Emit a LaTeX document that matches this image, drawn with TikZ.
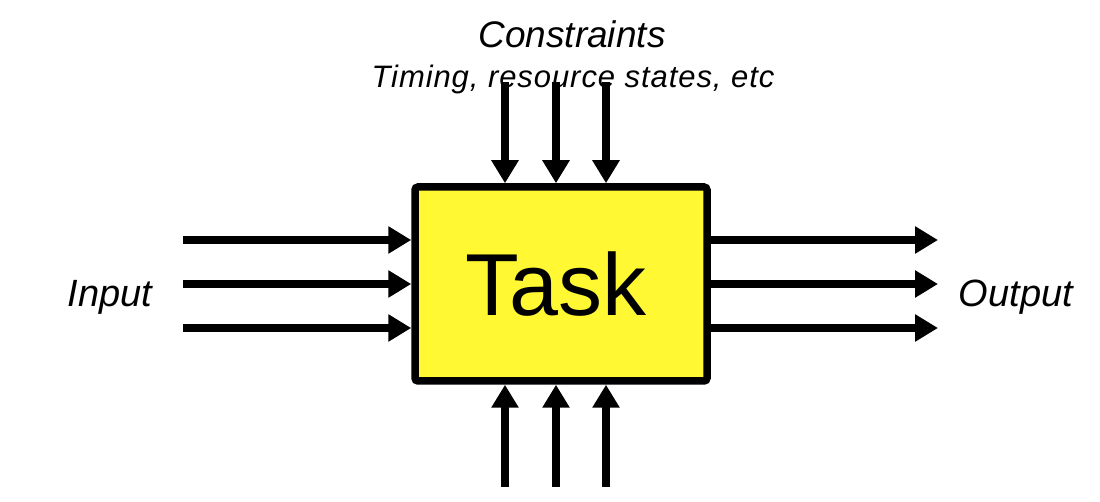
\documentclass[tikz,border=0pt]{standalone}
\usepackage{fontspec}
\setmainfont{Liberation Sans}
\usetikzlibrary{arrows.meta}
\definecolor{taskyellow}{RGB}{255,248,50}
\begin{document}
\begin{tikzpicture}[x=0.5pt,y=-0.5pt,
  arr/.style={line width=4pt,-{Triangle[length=11.5pt,width=13pt]}},
  taskbox/.style={draw,line width=3.75pt,fill=taskyellow,rounded corners=1.5pt,
    minimum width=146pt,minimum height=97pt,inner sep=0pt,
    font=\fontsize{44pt}{48pt}\selectfont},
  side/.style={anchor=base,font=\fontsize{19pt}{22pt}\selectfont\itshape},
]
\useasboundingbox (0,0) rectangle (1100,502);
\node[taskbox] (task) at (561,284) {\hspace*{-5pt}Task};
\node[anchor=base,font=\fontsize{18.5pt}{21pt}\selectfont\itshape] (cons) at (572,48) {Constraints};
\node[anchor=base,font=\fontsize{15.5pt}{18pt}\selectfont\itshape\addfontfeature{LetterSpace=3}] (timing) at (573,88) {Timing, resource states, etc};
\node[side] (input) at (110,307) {Input};
\node[side] (output) at (1016,307) {Output};
% constraint arrows (top)
\coordinate (t1) at (505,82);
\coordinate (t2) at (556,82);
\coordinate (t3) at (606,82);
\foreach \c in {t1,t2,t3} \draw[arr] (\c) -- (\c |- task.north);
% bottom arrows
\coordinate (b1) at (505,487);
\coordinate (b2) at (556,487);
\coordinate (b3) at (606,487);
\foreach \c in {b1,b2,b3} \draw[arr] (\c) -- (\c |- task.south);
% input arrows
\coordinate (l1) at (183,240);
\coordinate (l2) at (183,284);
\coordinate (l3) at (183,328);
\foreach \c in {l1,l2,l3} \draw[arr] (\c) -- (\c -| task.west);
% output arrows
\coordinate (r1) at (938,240);
\coordinate (r2) at (938,284);
\coordinate (r3) at (938,328);
\foreach \c in {r1,r2,r3} \draw[arr] (\c -| task.east) -- (\c);
\end{tikzpicture}
\end{document}
